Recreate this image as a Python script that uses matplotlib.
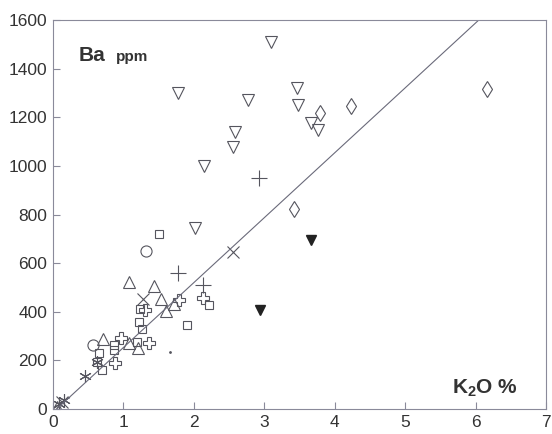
import numpy as np
import matplotlib
matplotlib.use("Agg")
import matplotlib.pyplot as plt

plt.rcParams['font.family'] = ['Liberation Sans', 'DejaVu Sans']
plt.rcParams['mathtext.fontset'] = 'custom'
plt.rcParams['mathtext.rm'] = 'Liberation Sans'
plt.rcParams['mathtext.bf'] = 'Liberation Sans:bold'

# K2O (%) and Ba (ppm) by rock group
tri_down_x = [3.09, 1.77, 2.77, 3.46, 3.48, 3.66, 3.77, 2.59, 2.56, 2.15, 2.02]
tri_down_y = [1511, 1301, 1271, 1319, 1250, 1178, 1148, 1138, 1079, 1001, 743]

tri_down_fill_x = [3.66, 2.94]
tri_down_fill_y = [695, 407]

diamond_x = [3.79, 4.23, 6.17, 3.42]
diamond_y = [1216, 1246, 1315, 823]

plus_x = [2.92, 1.77, 2.13]
plus_y = [949, 558, 510]

circle_x = [1.32, 0.57]
circle_y = [651, 265]

tri_up_x = [1.08, 1.44, 1.54, 1.72, 1.61, 0.71, 1.08, 1.21, 0.05]
tri_up_y = [521, 506, 451, 432, 403, 287, 270, 252, 10]

xcross_x = [1.28, 2.55, 0.13]
xcross_y = [451, 645, 28]

greek_x = [2.13, 1.79, 1.31, 0.97, 1.37, 0.88]
greek_y = [455, 447, 408, 293, 273, 190]

square_x = [1.50, 2.21, 1.23, 1.22, 1.27, 1.90, 1.20, 0.87, 0.86, 0.66, 0.63, 0.70]
square_y = [720, 428, 411, 359, 330, 345, 276, 262, 243, 229, 195, 160]

aster_x = [0.46, 0.15, 0.09, 0.63]
aster_y = [136, 37, 20, 195]

dot_x = [1.66]
dot_y = [236]

# reference line Ba = slope * K2O + intercept
line_slope = 267.0
line_intercept = -14.0

x_ticks = [0, 1, 2, 3, 4, 5, 6, 7]
y_ticks = [0, 200, 400, 600, 800, 1000, 1200, 1400, 1600]

fig = plt.figure(figsize=(5.52, 4.34), dpi=100)
ax = fig.add_axes([0.096, 0.0576, 0.893, 0.896])

mc = '#55555e'
lw = 0.8

ax.plot(tri_down_x, tri_down_y, 'v', ms=9, mfc='none', mec=mc, mew=lw, ls='none')
ax.plot(tri_down_fill_x, tri_down_fill_y, 'v', ms=7, mfc='#222222', mec='#222222', ls='none')
ax.plot(diamond_x, diamond_y, 'd', ms=8.5, mfc='none', mec=mc, mew=lw, ls='none')
ax.plot(plus_x, plus_y, '+', ms=11, mec=mc, mew=lw, ls='none')
ax.plot(circle_x, circle_y, 'o', ms=8, mfc='none', mec=mc, mew=lw, ls='none')
ax.plot(tri_up_x, tri_up_y, '^', ms=9, mfc='none', mec=mc, mew=lw, ls='none')
ax.plot(xcross_x, xcross_y, 'x', ms=8, mec=mc, mew=lw, ls='none')
ax.plot(greek_x, greek_y, 'P', ms=9, mfc='none', mec=mc, mew=lw, ls='none')
ax.plot(square_x, square_y, 's', ms=5.5, mfc='none', mec=mc, mew=lw, ls='none')
ax.plot(aster_x, aster_y, marker=(6, 2, 0), ms=9, mec=mc, mew=lw, ls='none')
ax.plot(dot_x, dot_y, '.', ms=2, color=mc, ls='none')

x_end = (1600 - line_intercept) / line_slope
xl = np.array([0.05, x_end])
ax.plot(xl, line_slope * xl + line_intercept, color='#6a6a7a', lw=0.8)

ax.set_xlim(0, 7)
ax.set_ylim(0, 1600)
ax.set_xticks(x_ticks)
ax.set_yticks(y_ticks)
ax.tick_params(direction='in', length=5, width=0.8, colors='#8a8a9a',
               labelcolor='#333333', labelsize=12.5, pad=4)
for s in ax.spines.values():
    s.set_color('#8a8a9a')
    s.set_linewidth(0.8)

ax.text(0.052, 0.895, 'Ba', transform=ax.transAxes, fontsize=15,
        fontweight='bold', color='#333333')
ax.text(0.127, 0.895, 'ppm', transform=ax.transAxes, fontsize=11,
        fontweight='bold', color='#333333')
ax.text(0.81, 0.04, r'$\mathbf{K_2O}$ %', transform=ax.transAxes, fontsize=15,
        fontweight='bold', color='#333333')

fig.savefig('out.png', dpi=100)
